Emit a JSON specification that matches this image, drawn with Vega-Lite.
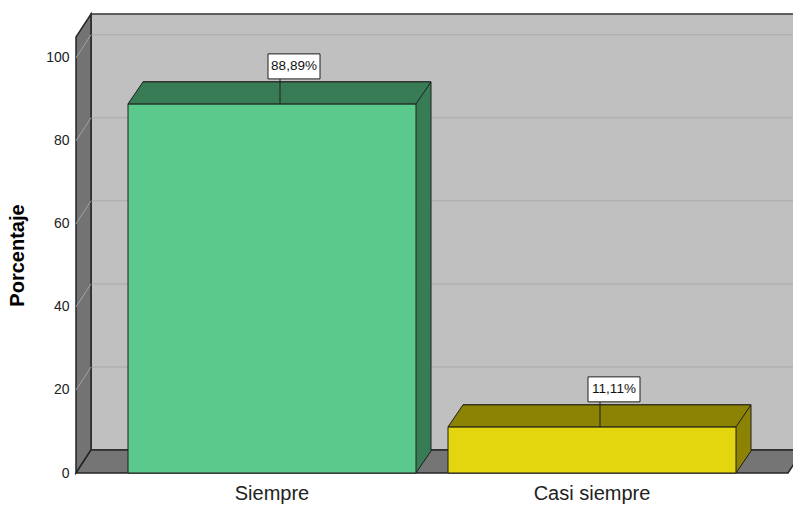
{
  "$schema": "https://vega.github.io/schema/vega-lite/v6.json",
  "width": 712,
  "height": 436,
  "autosize": {"type": "none"},
  "padding": {"left": 76, "top": 37, "right": 5, "bottom": 33},
  "background": "white",
  "config": {
    "view": {"stroke": null},
    "font": "Liberation Sans",
    "axisX": {"labelAngle": 0, "labelFontSize": 20, "labelColor": "#222222", "labelPadding": 10, "domain": false, "ticks": false, "grid": false},
    "axisY": {"labelFontSize": 14, "labelColor": "#222222", "labelPadding": 7, "domain": false, "ticks": false, "grid": false,
              "titleFontSize": 20, "titleFontWeight": "bold", "titleColor": "#000000", "titlePadding": 18}
  },
  "datasets": {
    "barras": [
      {"categoria": "Siempre", "porcentaje": 88.89, "etiqueta": "88,89%"},
      {"categoria": "Casi siempre", "porcentaje": 11.11, "etiqueta": "11,11%"}
    ],
    "marcas": [{"t": 20}, {"t": 40}, {"t": 60}, {"t": 80}, {"t": 100}],
    "uno": [{}]
  },
  "layer": [
    {
      "data": {"name": "uno"},
      "mark": {"type": "rect", "fill": "#c0c0c0", "stroke": "#333333", "strokeWidth": 1.5, "xOffset": 15, "x2Offset": 15, "yOffset": -23, "y2Offset": -23},
      "encoding": {
        "x": {"value": 0},
        "x2": {"value": "width"},
        "y": {"datum": 105, "type": "quantitative", "title": "Porcentaje"},
        "y2": {"datum": 0}
      }
    },
    {
      "data": {"name": "marcas"},
      "mark": {"type": "rule", "stroke": "#b1b1b1", "strokeWidth": 1.5, "xOffset": 15, "x2Offset": 15, "yOffset": -23, "y2Offset": -23},
      "encoding": {
        "x": {"value": 0},
        "x2": {"value": "width"},
        "y": {"field": "t", "type": "quantitative", "title": "Porcentaje"}
      }
    },
    {
      "data": {"name": "uno"},
      "mark": {"type": "point", "shape": "M0,0 L0,-436 L15,-459 L15,-23 Z", "size": 4, "filled": true, "fill": "#737373", "stroke": "#262626", "strokeWidth": 1.5, "opacity": 1},
      "encoding": {
        "x": {"value": 0},
        "y": {"datum": 0, "type": "quantitative", "title": "Porcentaje"}
      }
    },
    {
      "data": {"name": "marcas"},
      "mark": {"type": "rule", "stroke": "#a3a3a3", "strokeWidth": 1, "x2Offset": 15, "y2Offset": -23},
      "encoding": {
        "x": {"value": 0},
        "x2": {"value": 0},
        "y": {"field": "t", "type": "quantitative", "title": "Porcentaje"},
        "y2": {"field": "t"}
      }
    },
    {
      "data": {"name": "uno"},
      "mark": {"type": "point", "shape": "M0,0 L712,0 L727,-23 L15,-23 Z", "size": 4, "filled": true, "fill": "#757575", "stroke": "#262626", "strokeWidth": 1.5, "opacity": 1},
      "encoding": {
        "x": {"value": 0},
        "y": {"datum": 0, "type": "quantitative", "title": "Porcentaje"}
      }
    },
    {
      "data": {"name": "barras"},
      "mark": {"type": "bar", "stroke": "#1e1e1e", "strokeWidth": 1, "xOffset": 15, "yOffset": -22, "y2Offset": -22},
      "encoding": {
        "x": {"field": "categoria", "type": "nominal", "sort": null, "title": null, "scale": {"paddingInner": 0.1, "paddingOuter": 0.1625}},
        "y": {"field": "porcentaje", "type": "quantitative", "title": "Porcentaje"},
        "y2": {"datum": 0},
        "fill": {"condition": {"test": "datum.categoria === 'Siempre'", "value": "#387c55"}, "value": "#8c8304"}
      }
    },
    {
      "data": {"name": "barras"},
      "mark": {"type": "point", "shape": "M144,0 L159,-22 L158.5,-23 L144,-23 Z", "size": 4, "filled": true, "strokeWidth": 0, "opacity": 1},
      "encoding": {
        "x": {"field": "categoria", "type": "nominal", "sort": null, "title": null},
        "y": {"datum": 0, "type": "quantitative", "title": "Porcentaje"},
        "fill": {"condition": {"test": "datum.categoria === 'Siempre'", "value": "#387c55"}, "value": "#8c8304"}
      }
    },
    {
      "data": {"name": "barras"},
      "mark": {"type": "point", "shape": "M144,0 L159,-22", "size": 4, "filled": false, "stroke": "#1e1e1e", "strokeWidth": 1, "opacity": 1},
      "encoding": {
        "x": {"field": "categoria", "type": "nominal", "sort": null, "title": null},
        "y": {"datum": 0, "type": "quantitative", "title": "Porcentaje"}
      }
    },
    {
      "data": {"name": "barras"},
      "mark": {"type": "bar", "stroke": "#1e1e1e", "strokeWidth": 1},
      "encoding": {
        "x": {"field": "categoria", "type": "nominal", "sort": null, "title": null},
        "y": {"field": "porcentaje", "type": "quantitative", "title": "Porcentaje", "scale": {"domain": [0, 105], "nice": false},
              "axis": {"values": [0, 20, 40, 60, 80, 100], "title": "Porcentaje"}},
        "y2": {"datum": 0},
        "fill": {"condition": {"test": "datum.categoria === 'Siempre'", "value": "#5bc98c"}, "value": "#e3d60e"}
      }
    },
    {
      "data": {"name": "barras"},
      "mark": {"type": "point", "shape": "M-144,0 L144,0 L159,-22 L-129,-22 Z", "size": 4, "filled": true, "stroke": "#1e1e1e", "strokeWidth": 1, "opacity": 1},
      "encoding": {
        "x": {"field": "categoria", "type": "nominal", "sort": null, "title": null},
        "y": {"field": "porcentaje", "type": "quantitative", "title": "Porcentaje"},
        "fill": {"condition": {"test": "datum.categoria === 'Siempre'", "value": "#387c55"}, "value": "#8c8304"}
      }
    },
    {
      "data": {"name": "barras"},
      "mark": {"type": "rule", "stroke": "#1e1e1e", "strokeWidth": 1, "xOffset": 8, "y2Offset": -25},
      "encoding": {
        "x": {"field": "categoria", "type": "nominal", "sort": null, "title": null},
        "y": {"field": "porcentaje", "type": "quantitative", "title": "Porcentaje"},
        "y2": {"field": "porcentaje"}
      }
    },
    {
      "data": {"name": "barras"},
      "mark": {"type": "point", "shape": "M-26,-12.5 L26,-12.5 L26,12.5 L-26,12.5 Z", "size": 4, "filled": true, "fill": "#ffffff", "stroke": "#1e1e1e", "strokeWidth": 1, "opacity": 1, "xOffset": 22, "yOffset": -37.5},
      "encoding": {
        "x": {"field": "categoria", "type": "nominal", "sort": null, "title": null},
        "y": {"field": "porcentaje", "type": "quantitative", "title": "Porcentaje"}
      }
    },
    {
      "data": {"name": "barras"},
      "mark": {"type": "text", "fontSize": 13.5, "fill": "#111111", "align": "center", "baseline": "middle", "xOffset": 22, "yOffset": -37.5},
      "encoding": {
        "x": {"field": "categoria", "type": "nominal", "sort": null, "title": null},
        "y": {"field": "porcentaje", "type": "quantitative", "title": "Porcentaje"},
        "text": {"field": "etiqueta"}
      }
    }
  ]
}
